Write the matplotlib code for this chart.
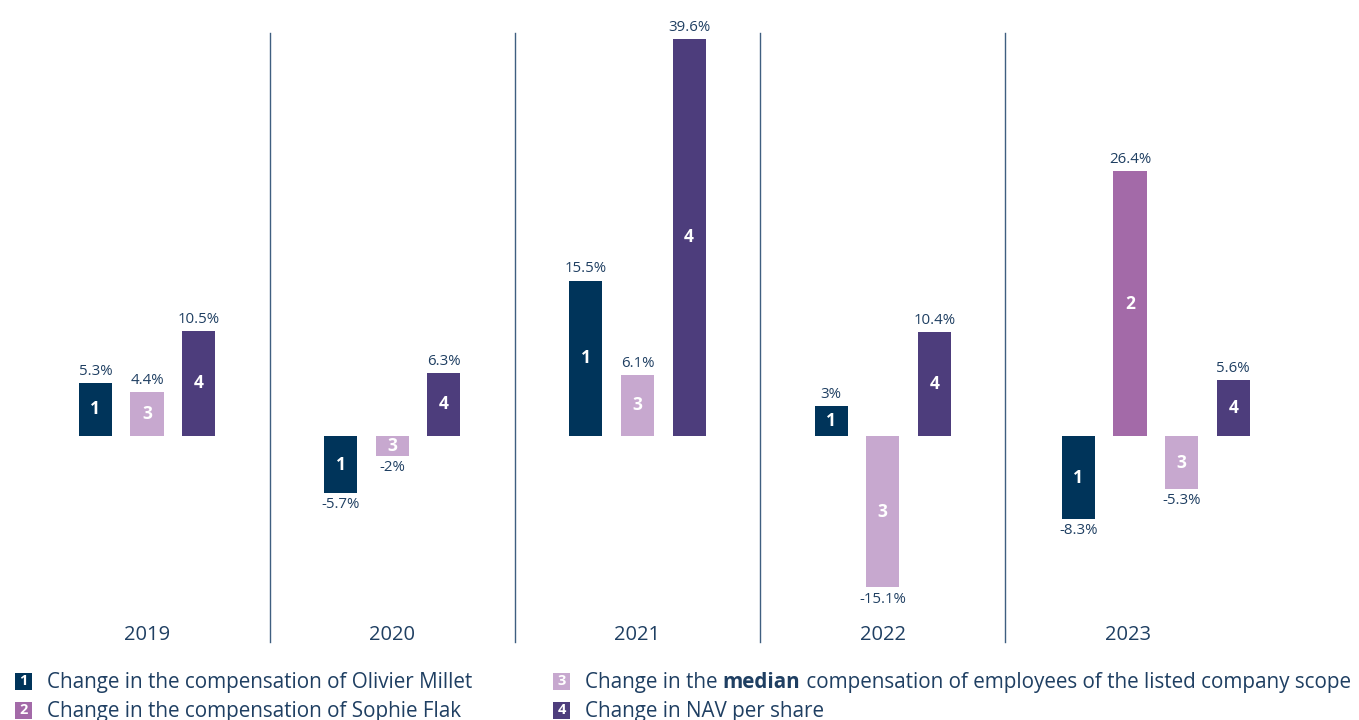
import matplotlib
matplotlib.use("Agg")
from matplotlib import pyplot as plt
from matplotlib.patches import Rectangle

plt.rcParams['font.family'] = ['Open Sans', 'DejaVu Sans']

years = ["2019", "2020", "2021", "2022", "2023"]
# None = not reported that year
olivier = [5.3, -5.7, 15.5, 3.0, -8.3]
sophie = [None, None, None, None, 26.4]
median_staff = [4.4, -2.0, 6.1, -15.1, -5.3]
nav = [10.5, 6.3, 39.6, 10.4, 5.6]

series = [olivier, sophie, median_staff, nav]
series_ids = ["1", "2", "3", "4"]
colors = ["#00345a", "#a36aa8", "#c7a8cf", "#4d3d7c"]
legend_texts = [
    ["Change in the compensation of Olivier Millet"],
    ["Change in the compensation of Sophie Flak"],
    ["Change in the ", "median", " compensation of employees of the listed company scope"],
    ["Change in NAV per share"],
]

text_col = "#1f3f62"
line_col = "#3f5f80"

fig = plt.figure(figsize=(13.59, 7.2), dpi=100)
ax = fig.add_axes([0.01795, 0.1083, 0.9023, 0.8458])
ax.set_xlim(-0.5, 4.5)
ax.set_ylim(-20.54, 40.18)
ax.axis("off")

slot = 0.2105
width = 0.135

for i, year in enumerate(years):
    k = -1
    for s, vals in enumerate(series):
        v = vals[i]
        if v is None:
            continue
        x = i + k * slot + (0.008 if i == 4 else 0)
        k += 1
        ax.bar(x, v, width=width, color=colors[s], linewidth=0)
        ax.text(x, v / 2, series_ids[s], color="white", fontsize=12.5,
                fontweight="bold", ha="center", va="center")
        ax.annotate(f"{v:g}%", (x, v), xytext=(0, 3 if v > 0 else -3),
                    textcoords="offset points", ha="center",
                    va="bottom" if v > 0 else "top",
                    color=text_col, fontsize=10.8)
    ax.text(i, -19.8, year, ha="center", va="center", color=text_col, fontsize=14.5)

# year separators
for b in [0.5, 1.5, 2.5, 3.5]:
    ax.plot([b, b], [-20.54, 40.18], color=line_col, lw=1.0, clip_on=False)

# legend, two columns
renderer = fig.canvas.get_renderer()
positions = [(15, 681), (15, 710), (553, 681), (553, 710)]
for s, (px, py) in enumerate(positions):
    fx, fy = px / 1359, 1 - py / 720
    sq = Rectangle((fx, fy - 8.5 / 720), 17 / 1359, 17 / 720,
                   transform=fig.transFigure, color=colors[s], lw=0)
    fig.patches.append(sq)
    fig.text(fx + 8.5 / 1359, fy, series_ids[s], color="white", fontsize=10.5,
             fontweight="bold", ha="center", va="center")
    tx = fx + 32 / 1359
    for j, part in enumerate(legend_texts[s]):
        t = fig.text(tx, fy - 1.5 / 720, part, color=text_col, fontsize=14.9,
                     va="center",
                     fontweight="bold" if part == "median" else "normal")
        bb = t.get_window_extent(renderer)
        tx += bb.width / 1359

fig.savefig("out.png", dpi=100)
